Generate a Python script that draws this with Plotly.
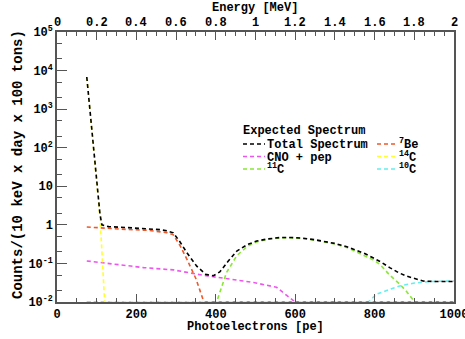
import plotly.graph_objects as go

# ---- data ----
total_x = [75, 85, 95, 103, 108, 113, 130, 176, 230, 260, 277, 293, 310, 327, 352, 375, 394, 410, 430, 453, 480, 503, 530, 562, 590, 620, 650, 671, 700, 730, 755, 775, 796, 815, 838, 860, 880, 900, 922, 950, 1000]
total_y = [6800, 600, 50, 7, 2, 1.0, 0.9, 0.85, 0.8, 0.75, 0.70, 0.62, 0.36, 0.19, 0.085, 0.052, 0.048, 0.06, 0.11, 0.21, 0.31, 0.38, 0.43, 0.47, 0.47, 0.45, 0.41, 0.38, 0.33, 0.27, 0.22, 0.18, 0.14, 0.11, 0.078, 0.058, 0.047, 0.04, 0.035, 0.034, 0.034]

be7_x = [75, 130, 176, 230, 260, 277, 293, 310, 327, 350, 370, 1000]
be7_y = [0.88, 0.8, 0.76, 0.72, 0.68, 0.63, 0.55, 0.29, 0.13, 0.04, 0.01, 0.01]

cno_x = [75, 130, 218, 293, 327, 369, 430, 495, 553, 587, 600, 1000]
cno_y = [0.116, 0.1, 0.078, 0.068, 0.058, 0.049, 0.04, 0.032, 0.024, 0.013, 0.01, 0.01]

c14_x = [75, 85, 95, 103, 108, 111, 115, 120, 1000]
c14_y = [6800, 600, 50, 7, 1.6, 0.5, 0.1, 0.01, 0.01]

c11_x = [75, 402, 427, 453, 480, 503, 530, 562, 590, 620, 650, 671, 700, 730, 755, 775, 796, 813, 838, 863, 880, 901, 1000]
c11_y = [0.01, 0.01, 0.058, 0.16, 0.28, 0.36, 0.42, 0.46, 0.46, 0.44, 0.4, 0.37, 0.32, 0.26, 0.2, 0.16, 0.125, 0.095, 0.05, 0.029, 0.019, 0.01, 0.01]

c10_x = [75, 784, 805, 835, 863, 900, 939, 1000]
c10_y = [0.01, 0.01, 0.016, 0.021, 0.026, 0.031, 0.034, 0.035]

pe_ticks = [0, 200, 400, 600, 800, 1000]
energy_ticks = [0, 0.2, 0.4, 0.6, 0.8, 1, 1.2, 1.4, 1.6, 1.8, 2]
energy_labels = ["0", "0.2", "0.4", "0.6", "0.8", "1", "1.2", "1.4", "1.6", "1.8", "2"]
y_tickvals = [0.01, 0.1, 1, 10, 100, 1000, 10000, 100000]
y_ticktext = ["10<sup>-2</sup>", "10<sup>-1</sup>", "1", "10", "10<sup>2</sup>", "10<sup>3</sup>", "10<sup>4</sup>", "10<sup>5</sup>"]

x_title = "Photoelectrons [pe]"
x2_title = "Energy [MeV]"
y_title = "Counts/(10 keV x day x 100 tons)"

legend_title = "Expected Spectrum"
legend_col1 = ["Total Spectrum", "CNO + pep", "<sup>11</sup>C"]
legend_col2 = ["<sup>7</sup>Be", "<sup>14</sup>C", "<sup>10</sup>C"]
col1_colors = ["#000000", "#ee55ee", "#88e833"]
col2_colors = ["#f0582a", "#ffff33", "#66eeee"]

FONT = "Liberation Mono"
DASH = "4px,3px"

fig = go.Figure()
series = [
    (c11_x, c11_y, col1_colors[2]),
    (c10_x, c10_y, col2_colors[2]),
    (cno_x, cno_y, col1_colors[1]),
    (be7_x, be7_y, col2_colors[0]),
    (c14_x, c14_y, col2_colors[1]),
    (total_x, total_y, col1_colors[0]),
]
for xs, ys, col in series:
    fig.add_trace(go.Scatter(x=xs, y=ys, mode="lines",
                             line=dict(color=col, width=1.6, dash=DASH),
                             showlegend=False, hoverinfo="skip"))

# helper trace for top energy axis
fig.add_trace(go.Scatter(x=[0, 2], y=[None, None], xaxis="x2", yaxis="y",
                         mode="lines", showlegend=False, hoverinfo="skip"))

# plot area in pixels: x 57..454, y 32..302 -> 397 x 270
PW, PH = 397.0, 270.0
def px(xpix):
    return (xpix - 57) / PW
def py(ypix):
    return (302 - ypix) / PH

legfont = dict(family=FONT, size=12, color="black", weight="bold")
fig.add_annotation(xref="paper", yref="paper", x=px(241), y=py(131), text=legend_title,
                   showarrow=False, xanchor="left", yanchor="middle", font=legfont)
rows = [144, 156.5, 169]
for i, (lab, col) in enumerate(zip(legend_col1, col1_colors)):
    fig.add_shape(type="line", xref="paper", yref="paper", x0=px(243), x1=px(265),
                  y0=py(rows[i]), y1=py(rows[i]), line=dict(color=col, width=1.6, dash=DASH))
    fig.add_annotation(xref="paper", yref="paper", x=px(266), y=py(rows[i] + 9), text=lab,
                       showarrow=False, xanchor="left", yanchor="bottom", font=legfont,
                       borderpad=0)
for i, (lab, col) in enumerate(zip(legend_col2, col2_colors)):
    fig.add_shape(type="line", xref="paper", yref="paper", x0=px(377), x1=px(397),
                  y0=py(rows[i]), y1=py(rows[i]), line=dict(color=col, width=1.6, dash=DASH))
    fig.add_annotation(xref="paper", yref="paper", x=px(398), y=py(rows[i] + 9), text=lab,
                       showarrow=False, xanchor="left", yanchor="bottom", font=legfont,
                       borderpad=0)

axfont = dict(family=FONT, size=12, color="black", weight="bold")
ytitlefont = dict(family=FONT, size=14, color="black", weight="bold")
fig.add_annotation(xref="paper", yref="paper", x=px(255), y=py(327), text=x_title,
                   showarrow=False, xanchor="center", yanchor="middle", font=axfont)
fig.add_annotation(xref="paper", yref="paper", x=px(255), y=py(8), text=x2_title,
                   showarrow=False, xanchor="center", yanchor="middle", font=axfont)
fig.add_annotation(xref="paper", yref="paper", x=px(18), y=py(165), text=y_title,
                   showarrow=False, xanchor="center", yanchor="middle", textangle=-90,
                   font=ytitlefont)
# energy tick labels, placed through the top axis scale
for val, lab in zip(energy_ticks, energy_labels):
    fig.add_annotation(xref="x2", yref="paper", x=val, y=py(23), text=lab,
                       showarrow=False, xanchor="center", yanchor="middle", font=axfont)

linecol = "#555555"
fig.update_layout(
    width=465, height=339,
    margin=dict(l=57, r=11, t=32, b=37),
    paper_bgcolor="white", plot_bgcolor="white",
    font=dict(family=FONT, size=12, color="black"),
    xaxis=dict(range=[0, 1000], tickmode="array", tickvals=pe_ticks, ticks="inside", ticklen=8,
               tickcolor=linecol, showline=True, linecolor=linecol, linewidth=1.5,
               showgrid=False, zeroline=False, tickfont=axfont, automargin=False,
               ticklabeloverflow="allow",
               minor=dict(dtick=50, tick0=0, ticks="inside", ticklen=4, tickcolor=linecol, showgrid=False)),
    xaxis2=dict(range=[0, 2], overlaying="x", side="top", anchor="y", tickmode="array",
                tickvals=energy_ticks, showticklabels=False,
                ticks="inside", ticklen=8, tickcolor=linecol, showline=True, linecolor=linecol,
                linewidth=1.5, showgrid=False, zeroline=False, automargin=False,
                minor=dict(dtick=0.05, tick0=0, ticks="inside", ticklen=4, tickcolor=linecol, showgrid=False)),
    yaxis=dict(type="log", range=[-2, 5], tickvals=y_tickvals, ticktext=y_ticktext,
               ticks="inside", ticklen=10, tickcolor=linecol, showline=True, linecolor=linecol,
               linewidth=1.5, mirror=True, showgrid=False, zeroline=False, tickfont=axfont,
               automargin=False, ticklabeloverflow="allow",
               minor=dict(ticks="inside", ticklen=5, tickcolor=linecol, showgrid=False)),
)

fig.write_html("out.html", config={"displayModeBar": False},
               post_script="document.body.style.margin='0';document.body.style.overflow='hidden';")
